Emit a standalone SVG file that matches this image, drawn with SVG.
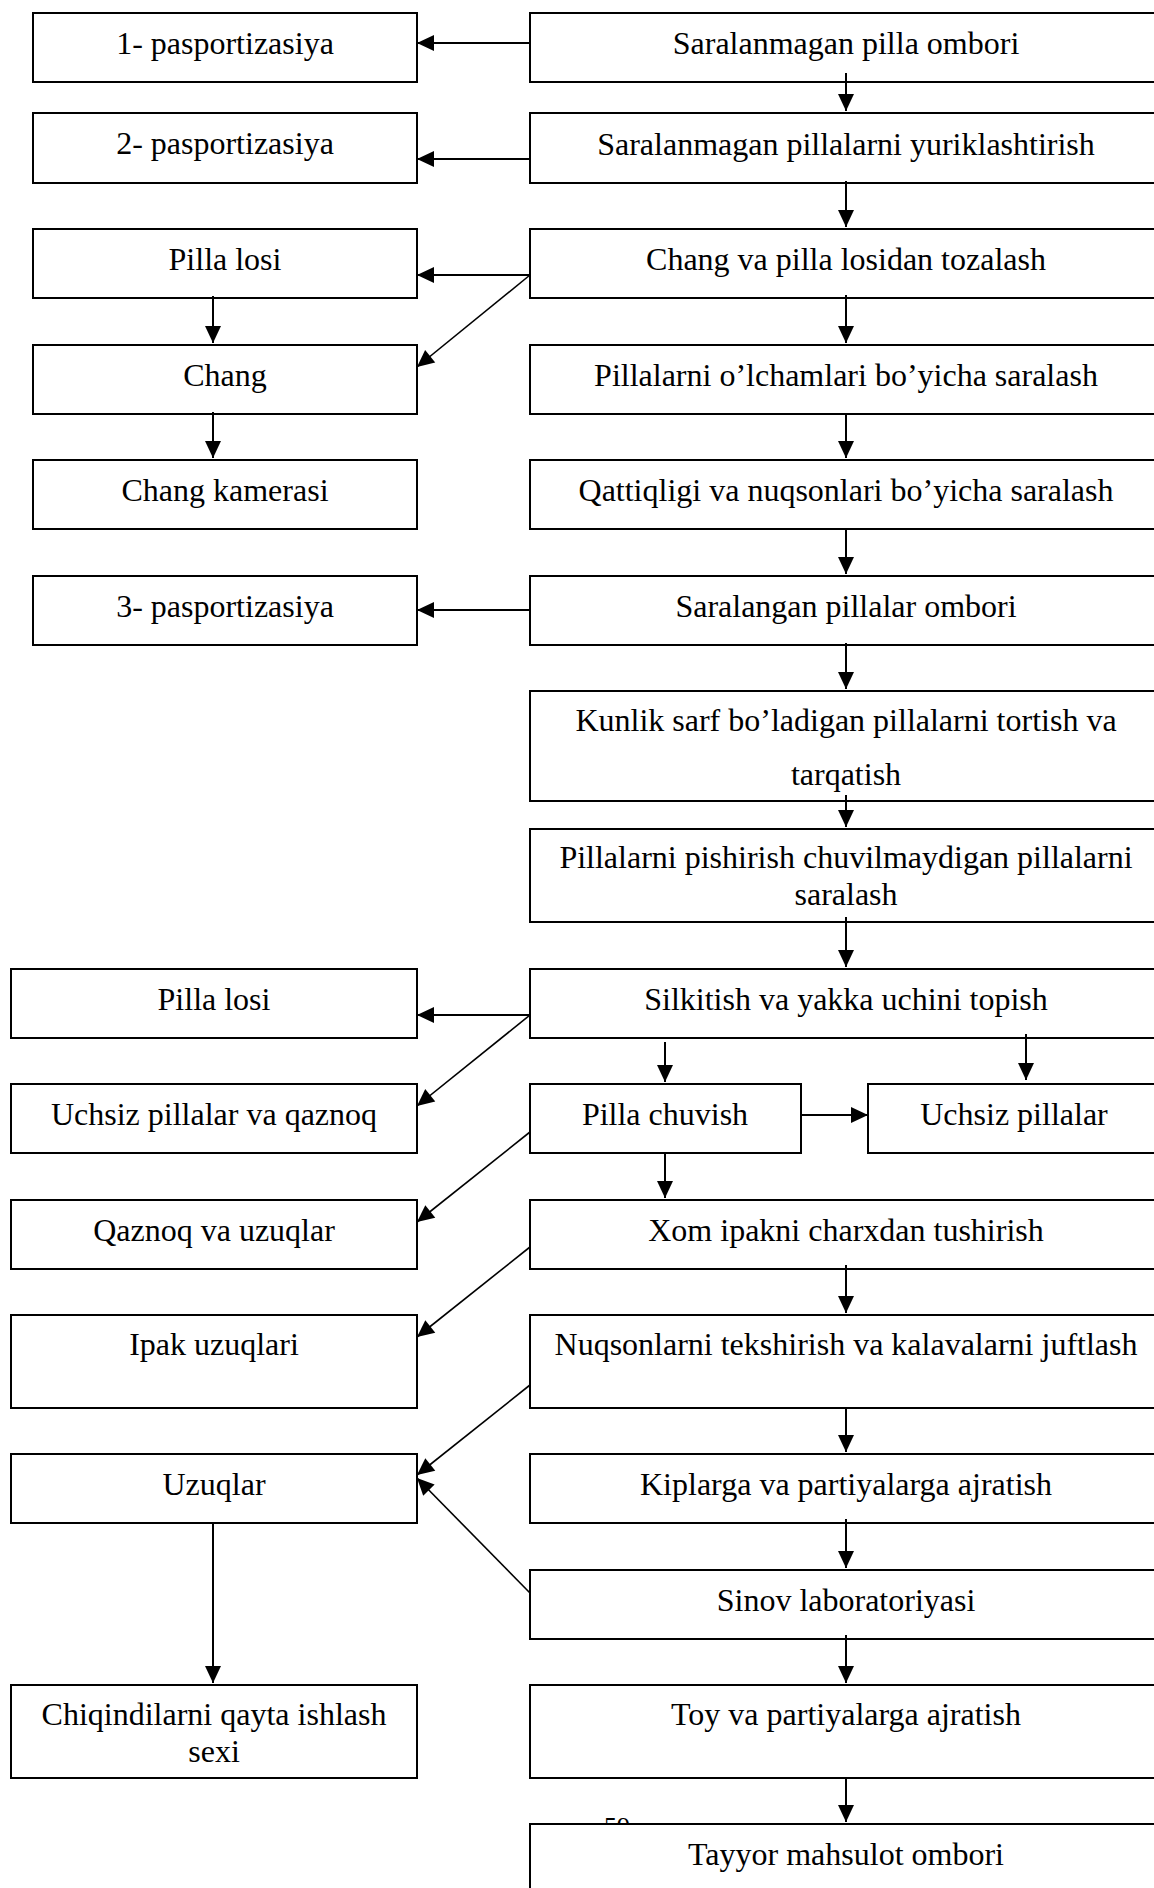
<svg xmlns="http://www.w3.org/2000/svg" width="1154" height="1888" viewBox="0 0 1154 1888">
<style>
.box{fill:#fff;stroke:#000;stroke-width:2}
text{font-family:"Liberation Serif","Times New Roman",serif;font-size:32px;fill:#000;text-anchor:middle}
.c line{stroke:#000;stroke-width:2;fill:none;marker-end:url(#ah)}
.c line.d{stroke-width:1.6}
</style>
<defs>
<marker id="ah" markerUnits="userSpaceOnUse" markerWidth="18" markerHeight="17" refX="17" refY="8" orient="auto" overflow="visible">
<path d="M0,0 L17,8 L0,16 Z" fill="#000"/>
</marker>
</defs>
<rect width="1154" height="1888" fill="#fff"/>
<text x="617" y="1835" style="font-size:26px">59</text>
<g id="nodes">
<g id="R1"><rect class="box" x="530" y="13" width="640" height="69"/><text x="846" y="54">Saralanmagan pilla ombori</text></g>
<g id="R2"><rect class="box" x="530" y="113" width="640" height="70"/><text x="846" y="155">Saralanmagan pillalarni yuriklashtirish</text></g>
<g id="R3"><rect class="box" x="530" y="229" width="640" height="69"/><text x="846" y="270">Chang va pilla losidan tozalash</text></g>
<g id="R4"><rect class="box" x="530" y="345" width="640" height="69"/><text x="846" y="386">Pillalarni o’lchamlari bo’yicha saralash</text></g>
<g id="R5"><rect class="box" x="530" y="460" width="640" height="69"/><text x="846" y="501">Qattiqligi va nuqsonlari bo’yicha saralash</text></g>
<g id="R6"><rect class="box" x="530" y="576" width="640" height="69"/><text x="846" y="617">Saralangan pillalar ombori</text></g>
<g id="R7"><rect class="box" x="530" y="691" width="640" height="110"/><text x="846" y="731">Kunlik sarf bo’ladigan pillalarni tortish va</text><text x="846" y="785">tarqatish</text></g>
<g id="R8"><rect class="box" x="530" y="829" width="640" height="93"/><text x="846" y="868">Pillalarni pishirish chuvilmaydigan pillalarni</text><text x="846" y="905">saralash</text></g>
<g id="R9"><rect class="box" x="530" y="969" width="640" height="69"/><text x="846" y="1010">Silkitish va yakka uchini topish</text></g>
<g id="R10a"><rect class="box" x="530" y="1084" width="271" height="69"/><text x="665" y="1125">Pilla chuvish</text></g>
<g id="R10b"><rect class="box" x="868" y="1084" width="300" height="69"/><text x="1014" y="1125">Uchsiz pillalar</text></g>
<g id="R11"><rect class="box" x="530" y="1200" width="640" height="69"/><text x="846" y="1241">Xom ipakni charxdan tushirish</text></g>
<g id="R12"><rect class="box" x="530" y="1315" width="640" height="93"/><text x="846" y="1355">Nuqsonlarni tekshirish va kalavalarni juftlash</text></g>
<g id="R13"><rect class="box" x="530" y="1454" width="640" height="69"/><text x="846" y="1495">Kiplarga va partiyalarga ajratish</text></g>
<g id="R14"><rect class="box" x="530" y="1570" width="640" height="69"/><text x="846" y="1611">Sinov laboratoriyasi</text></g>
<g id="R15"><rect class="box" x="530" y="1685" width="640" height="93"/><text x="846" y="1725">Toy va partiyalarga ajratish</text></g>
<g id="R16"><rect class="box" x="530" y="1824" width="640" height="80"/><text x="846" y="1865">Tayyor mahsulot ombori</text></g>
<g id="L1"><rect class="box" x="33" y="13" width="384" height="69"/><text x="225" y="54">1- pasportizasiya</text></g>
<g id="L2"><rect class="box" x="33" y="113" width="384" height="70"/><text x="225" y="154">2- pasportizasiya</text></g>
<g id="L3"><rect class="box" x="33" y="229" width="384" height="69"/><text x="225" y="270">Pilla losi</text></g>
<g id="L4"><rect class="box" x="33" y="345" width="384" height="69"/><text x="225" y="386">Chang</text></g>
<g id="L5"><rect class="box" x="33" y="460" width="384" height="69"/><text x="225" y="501">Chang kamerasi</text></g>
<g id="L6"><rect class="box" x="33" y="576" width="384" height="69"/><text x="225" y="617">3- pasportizasiya</text></g>
<g id="L7"><rect class="box" x="11" y="969" width="406" height="69"/><text x="214" y="1010">Pilla losi</text></g>
<g id="L8"><rect class="box" x="11" y="1084" width="406" height="69"/><text x="214" y="1125">Uchsiz pillalar va qaznoq</text></g>
<g id="L9"><rect class="box" x="11" y="1200" width="406" height="69"/><text x="214" y="1241">Qaznoq va uzuqlar</text></g>
<g id="L10"><rect class="box" x="11" y="1315" width="406" height="93"/><text x="214" y="1355">Ipak uzuqlari</text></g>
<g id="L11"><rect class="box" x="11" y="1454" width="406" height="69"/><text x="214" y="1495">Uzuqlar</text></g>
<g id="L12"><rect class="box" x="11" y="1685" width="406" height="93"/><text x="214" y="1725">Chiqindilarni qayta ishlash</text><text x="214" y="1762">sexi</text></g>
</g>
<g id="connectors" class="c">
<line x1="530" y1="43" x2="417" y2="43"/>
<line x1="846" y1="73" x2="846" y2="111"/>
<line x1="530" y1="159" x2="417" y2="159"/>
<line x1="846" y1="181" x2="846" y2="227"/>
<line x1="530" y1="275" x2="417" y2="275"/>
<line class="d" x1="530" y1="275" x2="417" y2="367"/>
<line x1="846" y1="295" x2="846" y2="343"/>
<line x1="213" y1="296" x2="213" y2="343"/>
<line x1="213" y1="412" x2="213" y2="458"/>
<line x1="846" y1="414" x2="846" y2="458"/>
<line x1="846" y1="528" x2="846" y2="574"/>
<line x1="530" y1="610" x2="417" y2="610"/>
<line x1="846" y1="643" x2="846" y2="689"/>
<line x1="846" y1="795" x2="846" y2="827"/>
<line x1="846" y1="917" x2="846" y2="967"/>
<line x1="530" y1="1015" x2="417" y2="1015"/>
<line class="d" x1="530" y1="1015" x2="417" y2="1106"/>
<line x1="665" y1="1042" x2="665" y2="1082"/>
<line x1="1026" y1="1034" x2="1026" y2="1080"/>
<line x1="801" y1="1115" x2="868" y2="1115"/>
<line class="d" x1="530" y1="1132" x2="417" y2="1222"/>
<line x1="665" y1="1153" x2="665" y2="1198"/>
<line class="d" x1="530" y1="1247" x2="417" y2="1337"/>
<line x1="846" y1="1265" x2="846" y2="1313"/>
<line class="d" x1="530" y1="1385" x2="417" y2="1475"/>
<line x1="846" y1="1407" x2="846" y2="1452"/>
<line x1="846" y1="1519" x2="846" y2="1568"/>
<line class="d" x1="530" y1="1593" x2="417" y2="1478"/>
<line x1="846" y1="1635" x2="846" y2="1683"/>
<line x1="213" y1="1523" x2="213" y2="1683"/>
<line x1="846" y1="1777" x2="846" y2="1822"/>
</g>
</svg>
